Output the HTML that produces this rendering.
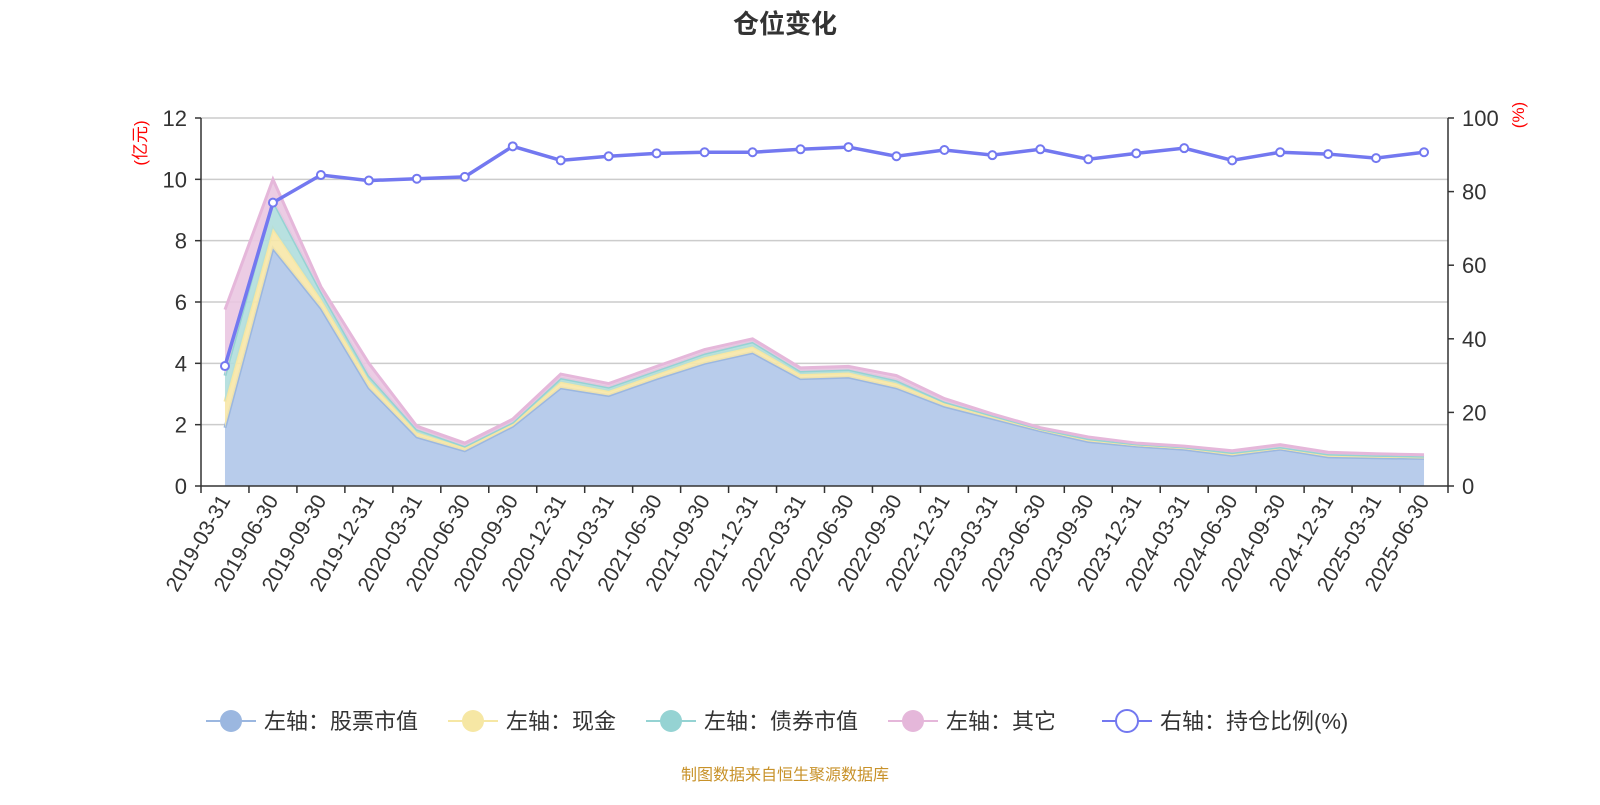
<!DOCTYPE html>
<html><head><meta charset="utf-8"><style>
body{margin:0;background:#fff;font-family:"Liberation Sans","Noto Sans CJK SC",sans-serif;}
svg text{font-family:"Liberation Sans","Noto Sans CJK SC",sans-serif;}
</style></head><body>
<svg id="chart" width="1600" height="800" xmlns="http://www.w3.org/2000/svg">
<text x="785" y="33" text-anchor="middle" font-size="26" font-weight="bold" fill="#333">仓位变化</text>
<g id="grid"></g><g id="areas"></g><g id="axes"></g><g id="line"></g>
<text transform="translate(146,143) rotate(-90)" text-anchor="middle" font-size="17" fill="#f00">(亿元)</text>
<text transform="translate(1524,115) rotate(-90)" text-anchor="middle" font-size="17" fill="#f00">(%)</text>
<g id="legend"></g>
<text x="785" y="780" text-anchor="middle" font-size="16" fill="#c8922a">制图数据来自恒生聚源数据库</text>
</svg>
<script>
const categories=["2019-03-31","2019-06-30","2019-09-30","2019-12-31","2020-03-31","2020-06-30","2020-09-30","2020-12-31","2021-03-31","2021-06-30","2021-09-30","2021-12-31","2022-03-31","2022-06-30","2022-09-30","2022-12-31","2023-03-31","2023-06-30","2023-09-30","2023-12-31","2024-03-31","2024-06-30","2024-09-30","2024-12-31","2025-03-31","2025-06-30"];
const stockValues=[1.9,7.75,5.8,3.2,1.6,1.15,1.95,3.2,2.95,3.5,4.0,4.35,3.5,3.55,3.2,2.6,2.2,1.8,1.45,1.3,1.2,1.0,1.2,0.95,0.92,0.9];
const cashValues=[0.85,0.65,0.3,0.25,0.15,0.1,0.08,0.2,0.15,0.15,0.2,0.2,0.15,0.15,0.15,0.1,0.08,0.05,0.07,0.05,0.05,0.07,0.05,0.07,0.06,0.05];
const bondValues=[0.85,0.9,0.25,0.15,0.1,0.05,0.05,0.12,0.12,0.12,0.12,0.15,0.1,0.1,0.1,0.05,0.02,0.02,0.02,0.02,0.02,0.02,0.02,0.02,0.02,0.02];
const otherValues=[2.15,0.7,0.15,0.4,0.1,0.1,0.1,0.13,0.12,0.13,0.13,0.1,0.1,0.1,0.15,0.1,0.05,0.03,0.06,0.03,0.03,0.06,0.08,0.06,0.05,0.05];
const ratioValues=[32.6,77,84.5,83,83.5,84,92.3,88.5,89.6,90.4,90.7,90.7,91.5,92.1,89.6,91.3,89.9,91.5,88.8,90.4,91.8,88.5,90.7,90.2,89.1,90.7];
const leftTicks=[0,2,4,6,8,10,12];
const rightTicks=[0,20,40,60,80,100];
const seriesNames=["左轴：股票市值","左轴：现金","左轴：债券市值","左轴：其它","右轴：持仓比例(%)"];

const NS="http://www.w3.org/2000/svg";
const L=201,R=1448,T=118,B=486;
const step=(R-L)/categories.length;
const xs=i=>L+step*(i+0.5);
const yl=v=>B-(v/12)*(B-T);
const yr=v=>B-(v/100)*(B-T);
function mk(p,tag,a){const e=document.createElementNS(NS,tag);for(const k in a)e.setAttribute(k,a[k]);p.appendChild(e);return e;}
const grid=document.getElementById('grid'),axes=document.getElementById('axes'),areas=document.getElementById('areas'),line=document.getElementById('line'),legend=document.getElementById('legend');
leftTicks.forEach(v=>{
 if(v>0){const g=mk(grid,'line',{x1:L,x2:R,y1:yl(v),y2:yl(v),stroke:'#ccc','stroke-width':1.5});
 }
 const t=mk(axes,'text',{x:L-14,y:yl(v)+8,'text-anchor':'end','font-size':22,fill:'#333'});t.textContent=v;
 
 mk(axes,'line',{x1:L-6,x2:L,y1:yl(v),y2:yl(v),stroke:'#333','stroke-width':1.5});
});
rightTicks.forEach(v=>{
 const t=mk(axes,'text',{x:R+14,y:yr(v)+8,'text-anchor':'start','font-size':22,fill:'#333'});t.textContent=v;
 
 mk(axes,'line',{x1:R,x2:R+6,y1:yr(v),y2:yr(v),stroke:'#333','stroke-width':1.5});
});
let a=mk(axes,'line',{x1:L,x2:L,y1:T,y2:B,stroke:'#333','stroke-width':1.5});
a=mk(axes,'line',{x1:R,x2:R,y1:T,y2:B,stroke:'#333','stroke-width':1.5});
a=mk(axes,'line',{x1:L,x2:R,y1:B,y2:B,stroke:'#333','stroke-width':1.5});
for(let i=0;i<=categories.length;i++)mk(axes,'line',{x1:L+step*i,x2:L+step*i,y1:B,y2:B+7,stroke:'#333','stroke-width':1.5});
categories.forEach((c,i)=>{
 const t=mk(axes,'text',{transform:`translate(${xs(i)+6},${B+14}) rotate(-60)`,'text-anchor':'end','font-size':21,fill:'#333'});t.textContent=c;
 
});
// stacked areas
const stacks=[stockValues,cashValues,bondValues,otherValues];
const fills=['#b8cceb','#f7e7a8','#b0dedd','#eac6e1'];
const strokes=['#9bb7e0','#f6e7a4','#95d3d3','#e5b7da'];
const areaNames=['stock-area','cash-area','bond-area','other-area'];
let base=categories.map(()=>0);
stacks.forEach((s,k)=>{
 const top=s.map((v,i)=>base[i]+v);
 let d='M'+categories.map((c,i)=>xs(i)+','+yl(top[i])).join('L');
 for(let i=categories.length-1;i>=0;i--)d+='L'+xs(i)+','+yl(base[i]);
 d+='Z';
 const p=mk(areas,'path',{d:d,fill:fills[k],opacity:k==0?1:0.9});
 
 const l=mk(areas,'polyline',{points:categories.map((c,i)=>xs(i)+','+yl(top[i])).join(' '),fill:'none',stroke:strokes[k],'stroke-width':3});
 
 base=top;
});
const pl=mk(line,'polyline',{points:ratioValues.map((v,i)=>xs(i)+','+yr(v)).join(' '),fill:'none',stroke:'#7378f0','stroke-width':3.5});

ratioValues.forEach((v,i)=>{
 const c=mk(line,'circle',{cx:xs(i),cy:yr(v),r:4,fill:'#fff',stroke:'#7378f0','stroke-width':2});
 
});
// legend
const lx=[206,448,646,888,1102];
const lc=['#9bb7e0','#f6e7a4','#95d3d3','#e5b7da','#7378f0'];
seriesNames.forEach((n,k)=>{
 const g=mk(legend,'g',{});
 
 mk(g,'line',{x1:lx[k],x2:lx[k]+50,y1:721,y2:721,stroke:lc[k],'stroke-width':2});
 if(k<4)mk(g,'circle',{cx:lx[k]+25,cy:721,r:11,fill:lc[k]});
 else mk(g,'circle',{cx:lx[k]+25,cy:721,r:11,fill:'#fff',stroke:lc[k],'stroke-width':2});
 const t=mk(g,'text',{x:lx[k]+58,y:729,'font-size':22,fill:'#333'});t.textContent=n;
});
</script>
</body></html>
